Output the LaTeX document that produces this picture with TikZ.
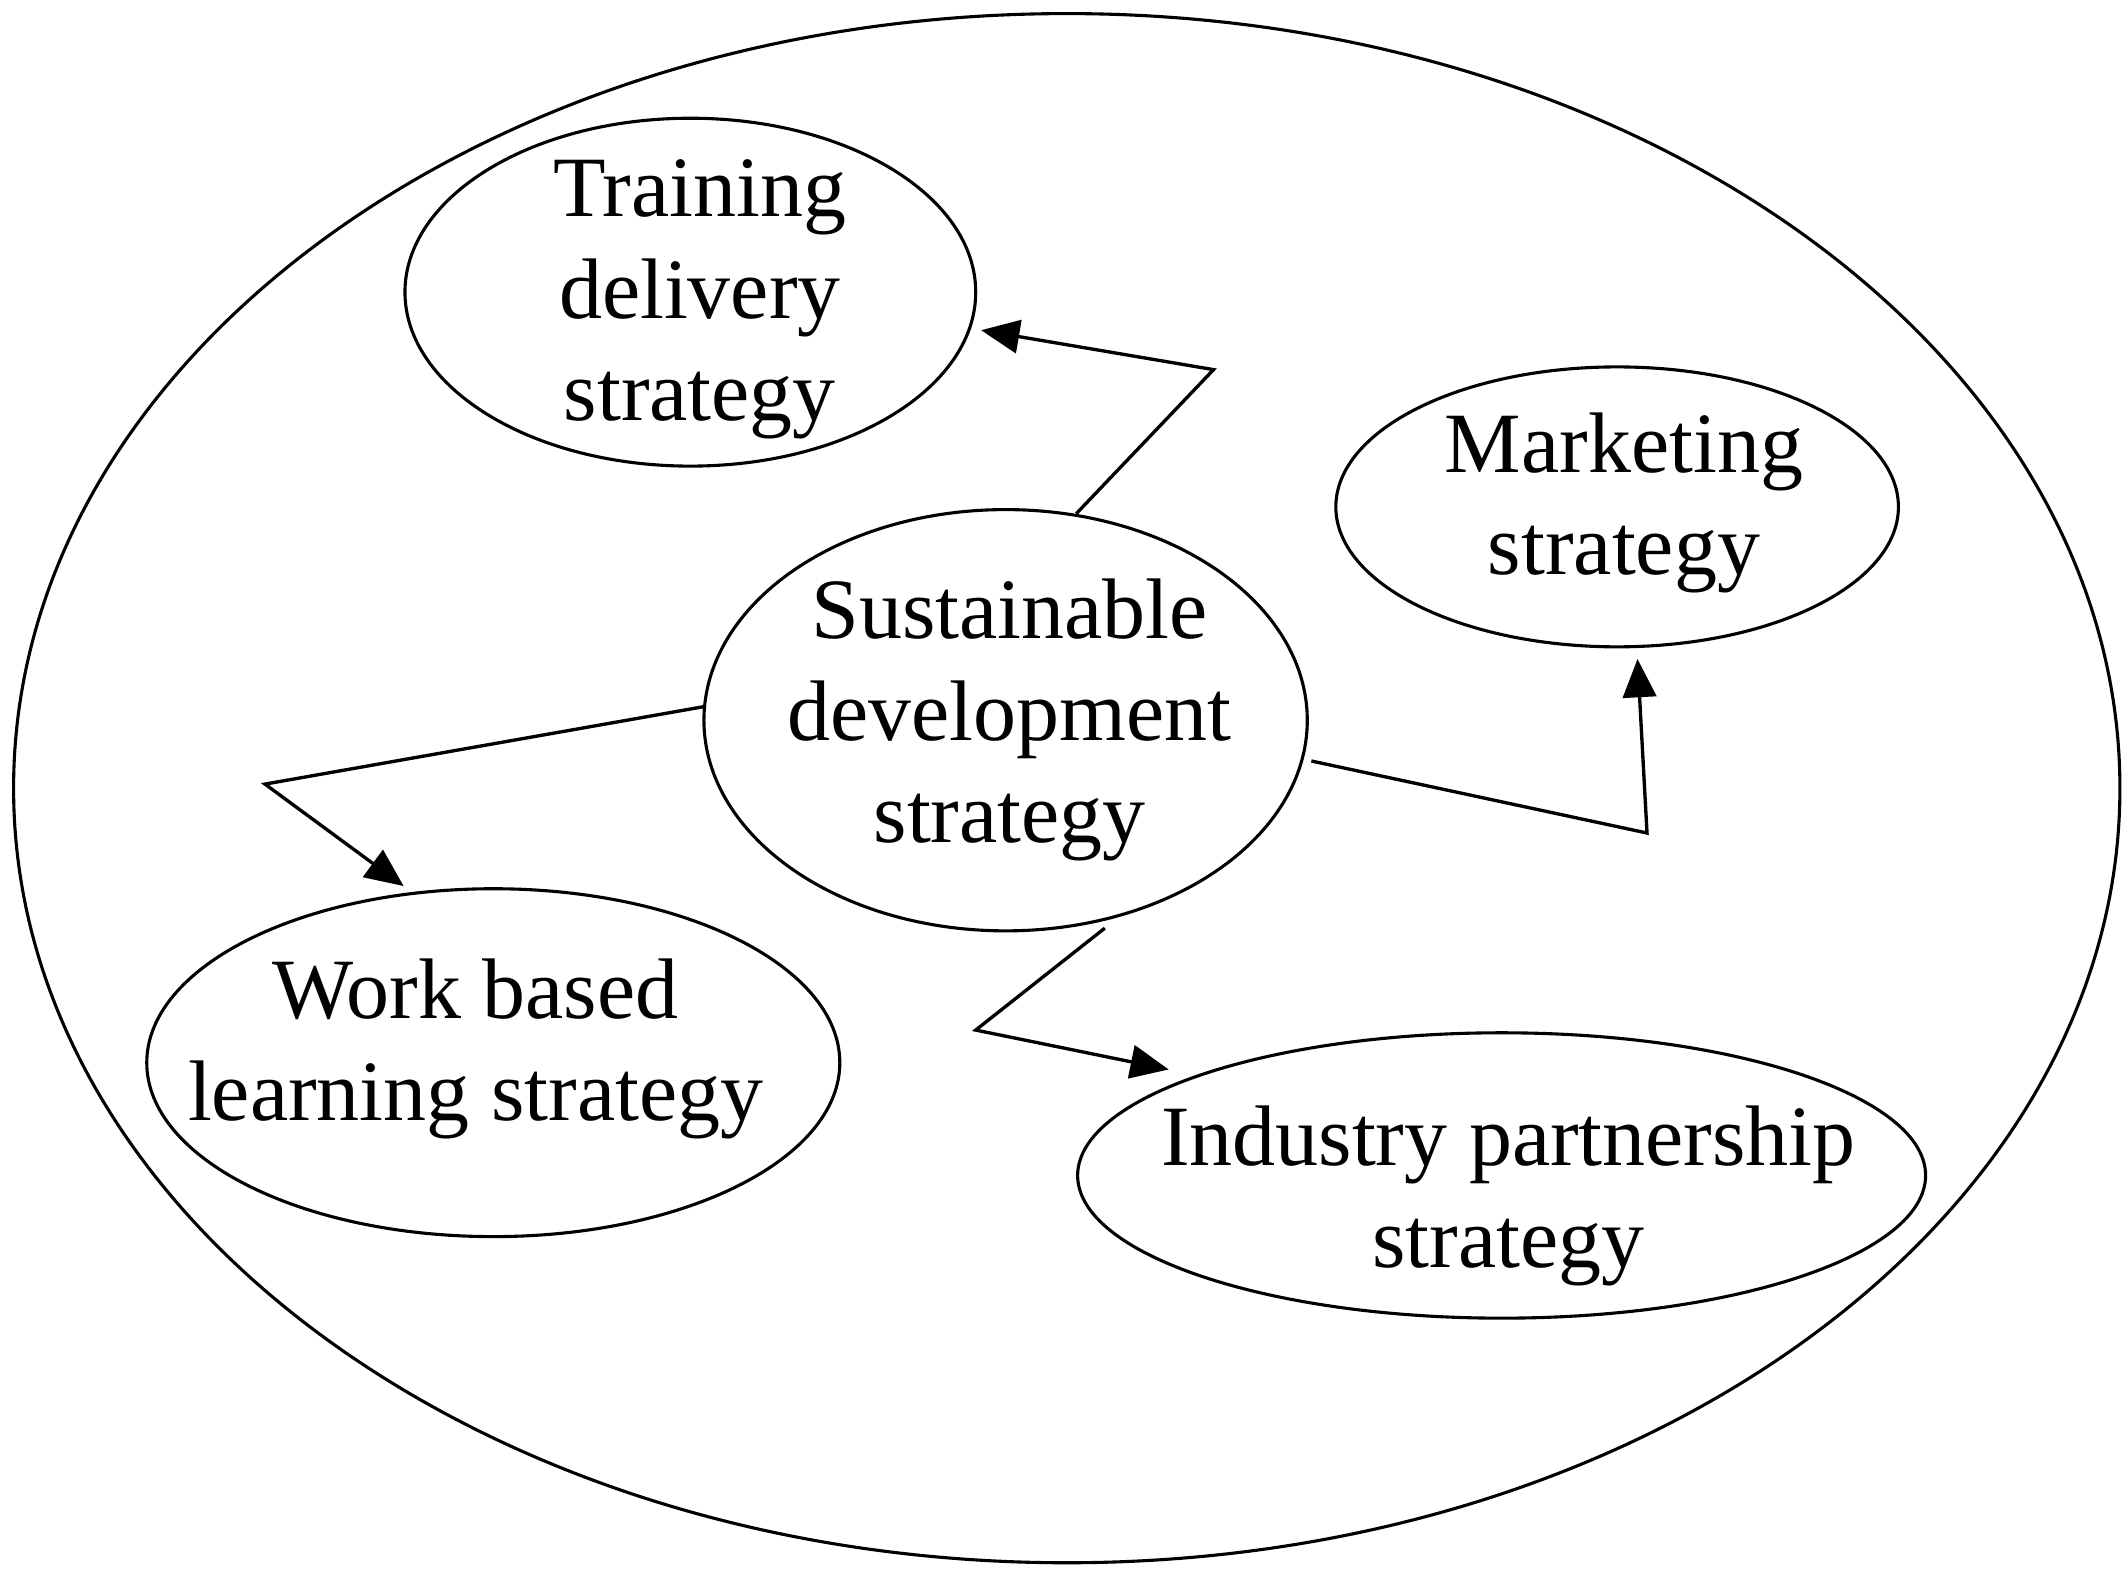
\documentclass[tikz,border=0pt]{standalone}
\usepackage{fontspec}
\setmainfont{Liberation Serif}
\usetikzlibrary{arrows.meta}
\begin{document}
\begin{tikzpicture}[x=0.02cm,y=-0.02cm,
  ellline/.style={draw,line width=1.3pt},
  txt/.style={align=center,inner sep=0pt,font=\fontsize{36}{42.7}\selectfont},
  conn/.style={line width=1.4pt,-{Triangle[length=16pt,width=14pt]}}]
\useasboundingbox (0,0) rectangle (1563,1162);
\draw[ellline] (785,580) ellipse [x radius=775, y radius=570];
\draw[ellline] (508,215) ellipse [x radius=210, y radius=128];
\draw[ellline] (1190,373) ellipse [x radius=207, y radius=103];
\draw[ellline] (740,530) ellipse [x radius=222, y radius=155];
\draw[ellline] (363,782) ellipse [x radius=255, y radius=128];
\draw[ellline] (1105,865) ellipse [x radius=312, y radius=105];
\node[txt] (train) at (515,220) {Training\\delivery\\strategy};
\node[txt] (market) at (1195,370) {Marketing\\strategy};
\node[txt] (sus) at (743,530) {Sustainable\\development\\strategy};
\node[txt] (work) at (350,772) {Work based\\learning strategy};
\node[txt] (ind) at (1110,880) {Industry partnership\\strategy};
\coordinate (s1) at (792,378);
\coordinate (b1) at (893,272);
\coordinate (e1) at (722,243);
\coordinate (s2) at (518,520);
\coordinate (b2) at (195,577);
\coordinate (e2) at (297,652);
\coordinate (s3) at (965,560);
\coordinate (b3) at (1212,613);
\coordinate (e3) at (1205,485);
\coordinate (s4) at (813,683);
\coordinate (b4) at (718,758);
\coordinate (e4) at (860,787);
\draw[conn] (s1) -- (b1) -- (e1);
\draw[conn] (s2) -- (b2) -- (e2);
\draw[conn] (s3) -- (b3) -- (e3);
\draw[conn] (s4) -- (b4) -- (e4);
\end{tikzpicture}
\end{document}
